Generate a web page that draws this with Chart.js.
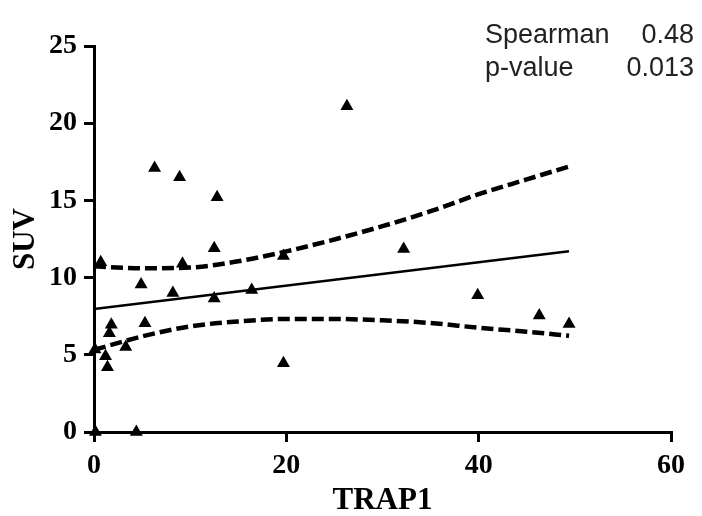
<!DOCTYPE html>
<html lang="en">
<head>
  <meta charset="UTF-8">
  <title>SUV vs TRAP1</title>
  <script src="https://cdn.jsdelivr.net/npm/chart.js"></script>
  <style>
    html, body {
      margin: 0;
      padding: 0;
      background: #ffffff;
    }
    #wrap {
      width: 702px;
      height: 516px;
    }
  </style>
</head>
<body>

<div id="wrap">
  <canvas id="scatter" width="702" height="516"></canvas>
</div>

<script>
  // measured points (TRAP1, SUV)
  const trap1 = [0.7, 6.3, 8.9, 12.8, 12.5, 9.2, 4.9, 8.2, 12.5, 16.4, 19.7, 19.7, 26.3,
                 1.8, 1.6, 5.3, 3.3, 1.2, 1.4, 0.1, 0.15, 4.4, 32.2, 39.9, 46.3, 49.4];
  const suv   = [11.0, 17.1, 16.5, 15.2, 11.9, 10.9, 9.55, 9.0, 8.65, 9.2, 11.4, 4.45, 21.1,
                 6.95, 6.4, 7.05, 5.5, 4.9, 4.2, 5.35, 0, 0, 11.85, 8.85, 7.55, 7.0];

  // fitted line end points
  const fitX = [0, 49.4];
  const fitY = [7.97, 11.7];

  // 95% band
  const bandX = [0, 5, 10, 15, 20, 25, 30, 35, 40, 45, 49.4];
  const bandUpper = [10.73, 10.6, 10.65, 11.06, 11.7, 12.47, 13.33, 14.3, 15.4, 16.36, 17.2];
  const bandLower = [5.32, 6.19, 6.84, 7.16, 7.32, 7.32, 7.23, 7.06, 6.75, 6.5, 6.23];

  const xTicks = [0, 20, 40, 60];
  const yTicks = [0, 5, 10, 15, 20, 25];

  const statLabels = ['Spearman', 'p-value'];
  const statValues = ['0.48', '0.013'];

  const toPts = (xs, ys) => xs.map((x, i) => ({ x: x, y: ys[i] }));

  const serif = "'Liberation Serif', 'Times New Roman', serif";

  const statsText = {
    id: 'statsText',
    afterDraw(chart) {
      const ctx = chart.ctx;
      ctx.save();
      ctx.font = "27px 'Liberation Sans', Arial, sans-serif";
      ctx.fillStyle = '#222';
      ctx.textBaseline = 'alphabetic';
      const rows = [43, 76];
      statLabels.forEach((lab, i) => {
        ctx.textAlign = 'left';
        ctx.fillText(lab, 485, rows[i]);
        ctx.textAlign = 'right';
        ctx.fillText(statValues[i], 694, rows[i]);
      });
      ctx.restore();
    }
  };

  const axisGrid = {
    display: true,
    drawOnChartArea: false,
    drawTicks: true,
    tickLength: 10,
    lineWidth: 3,
    color: '#000'
  };

  const dashed = {
    type: 'line',
    borderColor: '#000',
    borderWidth: 4.5,
    borderDash: [12, 5],
    pointRadius: 0,
    cubicInterpolationMode: 'monotone',
    fill: false
  };

  new Chart(document.getElementById('scatter').getContext('2d'), {
    type: 'scatter',
    data: {
      datasets: [
        {
          label: 'data',
          data: toPts(trap1, suv),
          pointStyle: 'triangle',
          pointRadius: 7.5,
          pointBackgroundColor: '#000',
          pointBorderColor: '#000',
          pointBorderWidth: 0,
          clip: false
        },
        {
          label: 'fit',
          type: 'line',
          data: toPts(fitX, fitY),
          borderColor: '#000',
          borderWidth: 2.5,
          pointRadius: 0,
          fill: false
        },
        Object.assign({ label: 'upper', data: toPts(bandX, bandUpper) }, dashed),
        Object.assign({ label: 'lower', data: toPts(bandX, bandLower) }, dashed)
      ]
    },
    options: {
      responsive: false,
      animation: false,
      layout: { padding: { top: 46, right: 31, left: 0, bottom: 0 } },
      plugins: {
        legend: { display: false },
        tooltip: { enabled: false }
      },
      scales: {
        x: {
          type: 'linear',
          min: 0,
          max: 60,
          afterBuildTicks: (s) => { s.ticks = xTicks.map(v => ({ value: v })); },
          afterFit: (s) => { s.height = 84; },
          grid: axisGrid,
          border: { display: true, width: 3, color: '#000' },
          ticks: {
            color: '#000',
            padding: 7,
            font: { family: serif, size: 28, weight: 'bold' }
          },
          title: {
            display: true,
            text: 'TRAP1',
            color: '#000',
            padding: { top: 0, bottom: 0 },
            font: { family: serif, size: 31, weight: 'bold', lineHeight: 1 }
          }
        },
        y: {
          type: 'linear',
          min: 0,
          max: 25,
          afterBuildTicks: (s) => { s.ticks = yTicks.map(v => ({ value: v })); },
          afterFit: (s) => { s.width = 94; },
          grid: axisGrid,
          border: { display: true, width: 3, color: '#000' },
          ticks: {
            color: '#000',
            padding: 7,
            font: { family: serif, size: 28, weight: 'bold' }
          },
          title: {
            display: true,
            text: 'SUV',
            color: '#000',
            padding: { top: 10, bottom: 0 },
            font: { family: serif, size: 31, weight: 'bold', lineHeight: 1 }
          }
        }
      }
    },
    plugins: [statsText]
  });
</script>

</body>
</html>
